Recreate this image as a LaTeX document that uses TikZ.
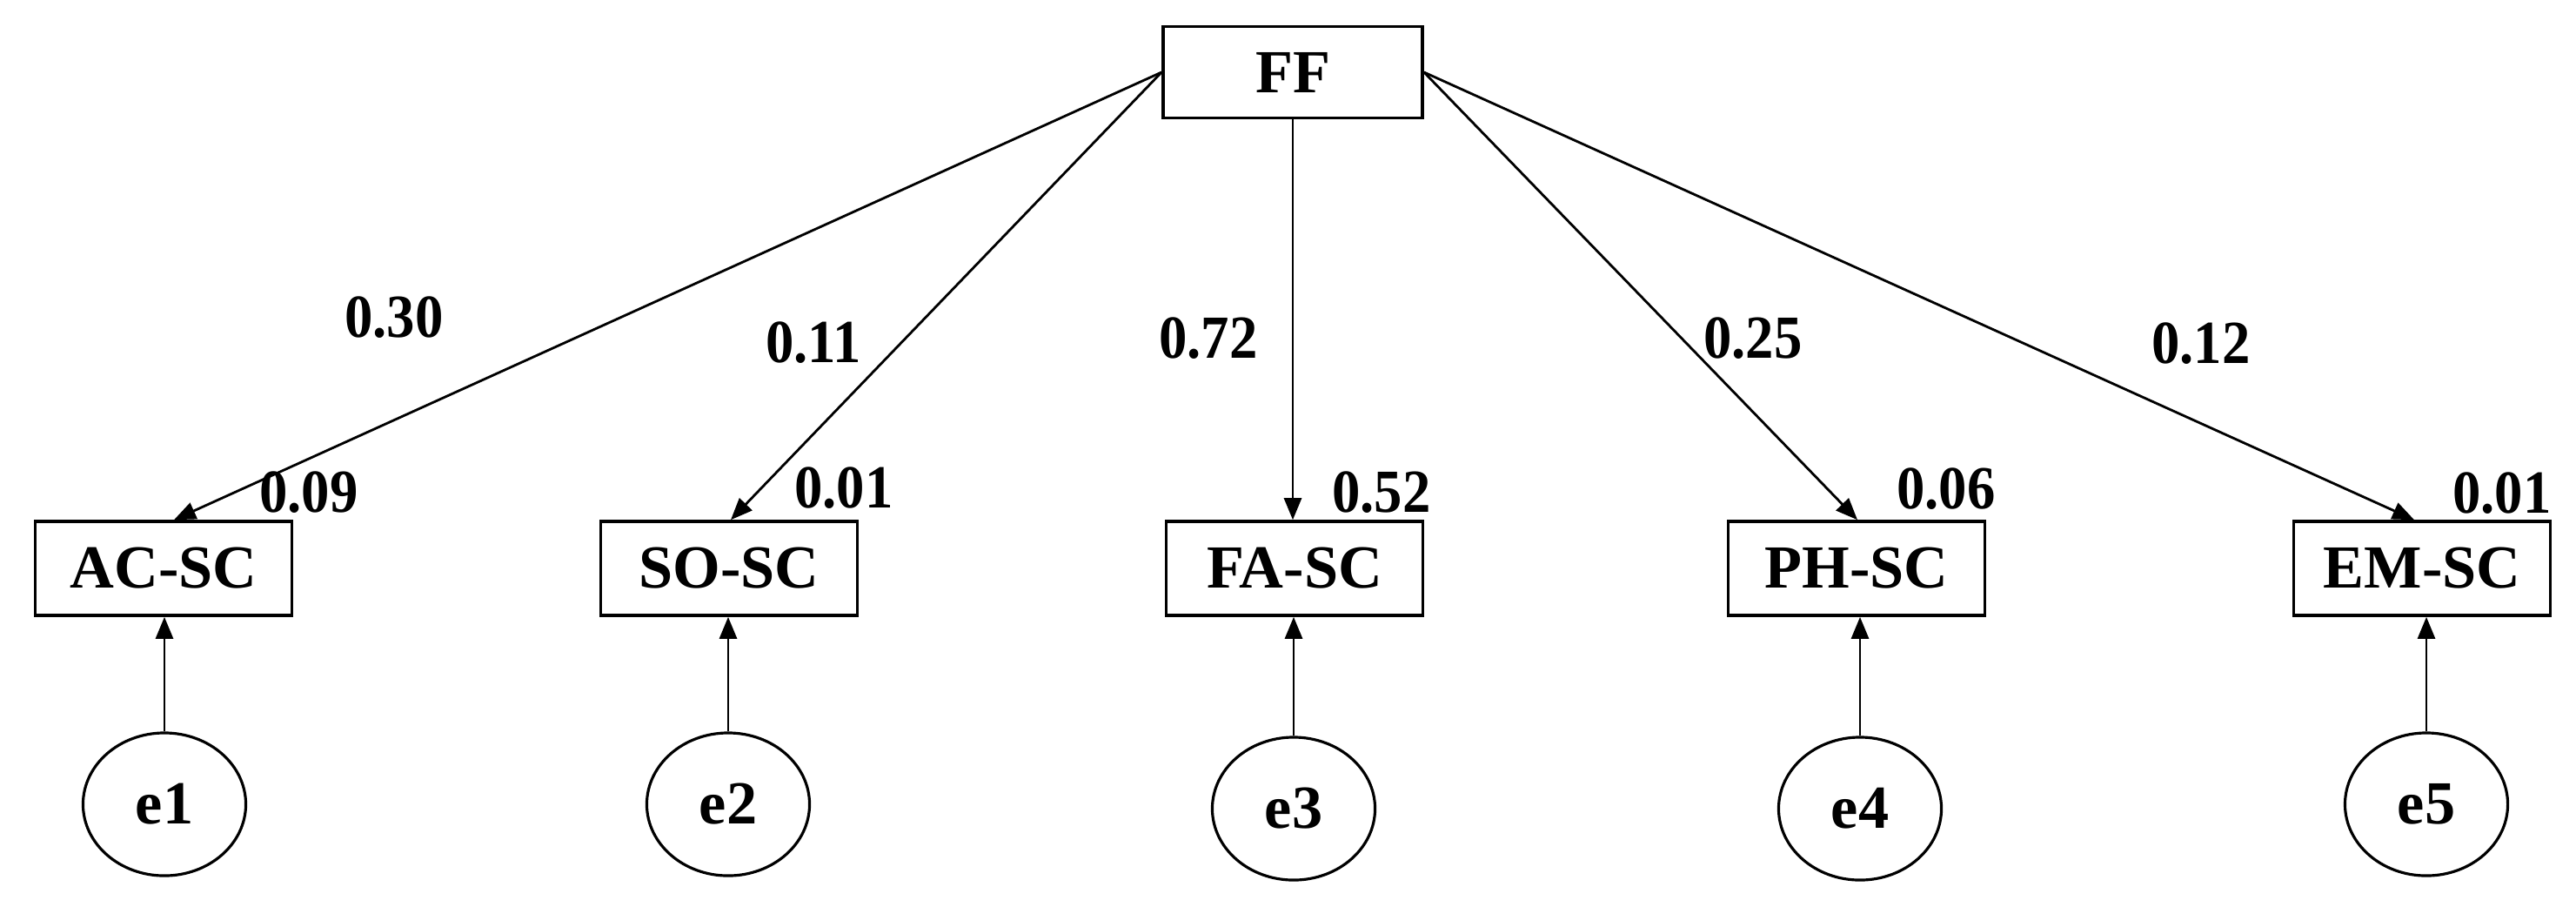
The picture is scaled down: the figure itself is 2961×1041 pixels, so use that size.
\documentclass[tikz,border=0pt]{standalone}
\usepackage{fontspec}
\usepackage{graphicx}
\setmainfont{Liberation Serif}
\usetikzlibrary{arrows.meta,shapes.geometric}
\newcommand{\nlab}[1]{\scalebox{0.92}[1]{#1}}
\begin{document}
\begin{tikzpicture}[x=0.01cm,y=-0.01cm,
  font=\bfseries\fontsize{20}{24}\selectfont,
  box/.style={draw,line width=1pt,minimum width=2.95cm,minimum height=1.08cm,inner sep=0pt},
  err/.style={draw,ellipse,line width=0.9pt,minimum width=1.87cm,minimum height=1.64cm,inner sep=0pt},
  link/.style={line width=0.8pt,-{Triangle[length=0.25cm,width=0.2cm]}},
  lab/.style={inner sep=0pt}]
\useasboundingbox (0,0) rectangle (2961,1041);
% nodes
\node[box,minimum width=2.98cm,minimum height=1.05cm] (FF) at (1486,83) {FF};
\node[box] (AC) at (188,653) {AC-SC};
\node[box] (SO) at (838,653) {SO-SC};
\node[box] (FA) at (1488,653) {FA-SC};
\node[box] (PH) at (2134,653) {PH-SC};
\node[box] (EM) at (2784,653) {EM-SC};
\node[err] (e1) at (189,924) {e1};
\node[err] (e2) at (837,924) {e2};
\node[err] (e3) at (1487,929) {e3};
\node[err] (e4) at (2138,929) {e4};
\node[err] (e5) at (2789,924) {e5};
% loadings
\draw[link] (FF.west) -- ([xshift=0.12cm]AC.north);
\draw[link] (FF.west) -- ([xshift=0.02cm]SO.north);
\draw[link] (FF.south) -- (FF.south |- FA.north);
\draw[link] (FF.east) -- ([xshift=0.01cm]PH.north);
\draw[link] (FF.east) -- ([xshift=-0.09cm]EM.north);
% errors
\draw[link] (e1.north) -- (e1.north |- AC.south);
\draw[link] (e2.north) -- (e2.north |- SO.south);
\draw[link] (e3.north) -- (e3.north |- FA.south);
\draw[link] (e4.north) -- (e4.north |- PH.south);
\draw[link] (e5.north) -- (e5.north |- EM.south);
% labels
\node[lab] (l1) at (453,365) {\nlab{0.30}};
\node[lab] (l2) at (935,394) {\nlab{0.11}};
\node[lab] (l3) at (1389,389) {\nlab{0.72}};
\node[lab] (l4) at (2015,389) {\nlab{0.25}};
\node[lab] (l5) at (2530,395) {\nlab{0.12}};
\node[lab] (r1) at (355,566) {\nlab{0.09}};
\node[lab] (r2) at (970,561) {\nlab{0.01}};
\node[lab] (r3) at (1588,566) {\nlab{0.52}};
\node[lab] (r4) at (2237,562) {\nlab{0.06}};
\node[lab] (r5) at (2876,567) {\nlab{0.01}};
\end{tikzpicture}
\end{document}
